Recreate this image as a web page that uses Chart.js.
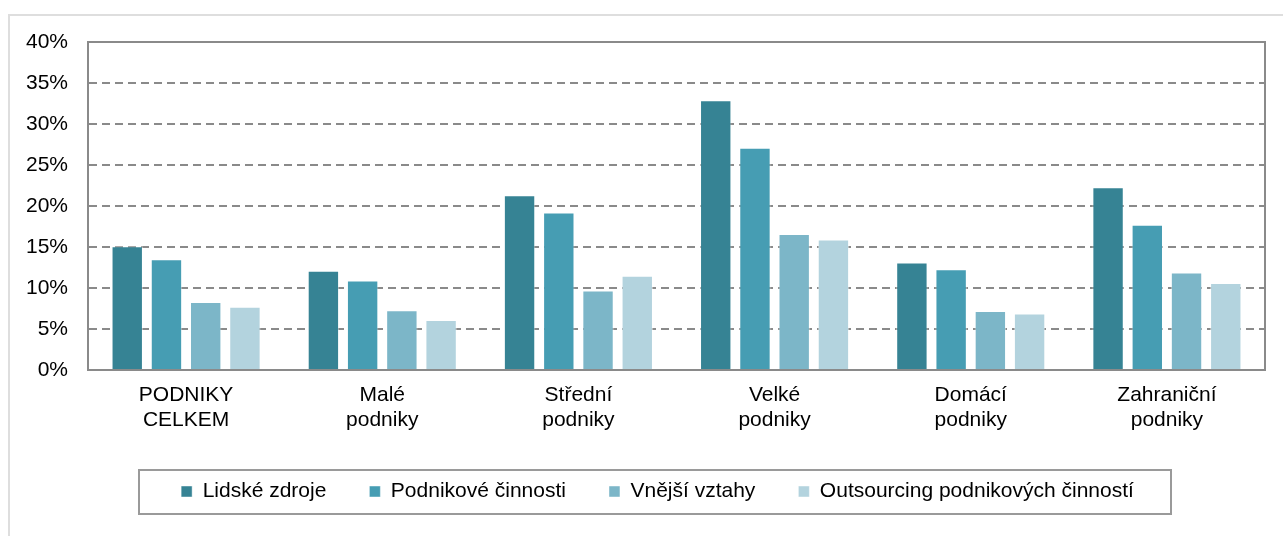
<!DOCTYPE html>
<html>
<head>
<meta charset="utf-8">
<script src="https://cdn.jsdelivr.net/npm/chart.js@4"></script>
<style>
  body { margin: 0; background: #fff; }
  #frame { position: absolute; left: 8px; top: 14px; width: 1300px; height: 540px; border: 2px solid #dedede; }
  #wrap { position: absolute; left: 0; top: 0; width: 1283px; height: 536px; }
</style>
</head>
<body>
<div id="frame"></div>
<div id="wrap"><canvas id="bars"></canvas></div>
<script>
  // categories (two-line labels)
  const categories = [
    ['PODNIKY', 'CELKEM'],
    ['Malé', 'podniky'],
    ['Střední', 'podniky'],
    ['Velké', 'podniky'],
    ['Domácí', 'podniky'],
    ['Zahraniční', 'podniky']
  ];

  // series values in %
  const lidskeZdroje = [15.1, 12.1, 21.3, 32.9, 13.1, 22.3];
  const podnikoveCinnosti = [13.5, 10.9, 19.2, 27.1, 12.3, 17.7];
  const vnejsiVztahy = [8.3, 7.3, 9.7, 16.6, 7.2, 11.9];
  const outsourcing = [7.7, 6.1, 11.5, 15.9, 6.9, 10.6];

  const seriesNames = ['Lidské zdroje', 'Podnikové činnosti', 'Vnější vztahy', 'Outsourcing podnikových činností'];
  const seriesColors = ['#368394', '#469db3', '#7cb6c8', '#b3d3de'];

  const yMin = 0, yMax = 40, yStep = 5;

  const gridGray = '#8a8a8a';
  const font = { family: '"Liberation Sans", Arial, sans-serif', size: 21, lineHeight: 1.18 };

  // border of plot area (top + right) and box round the legend
  const framePlugin = {
    id: 'framePlugin',
    afterLayout(chart) {
      // legend sits a bit right of centre in the original
      chart.legend.left += 12;
      chart.legend.right += 12;
    },
    afterDraw(chart) {
      const c = chart.ctx, a = chart.chartArea;
      c.save();
      c.strokeStyle = gridGray;
      c.lineWidth = 2;
      c.setLineDash([]);
      c.beginPath();
      c.moveTo(a.left, a.top);
      c.lineTo(a.right, a.top);
      c.lineTo(a.right, a.bottom);
      c.stroke();

      const boxes = chart.legend.legendHitBoxes;
      if (boxes && boxes.length) {
        let l = Infinity, r = -Infinity, t = Infinity, b = -Infinity;
        boxes.forEach(h => {
          l = Math.min(l, h.left); r = Math.max(r, h.left + h.width);
          t = Math.min(t, h.top); b = Math.max(b, h.top + h.height);
        });
        const mid = (t + b) / 2;
        c.strokeStyle = '#9a9a9a';
        c.lineWidth = 2;
        c.strokeRect(Math.round(l - 42), Math.round(mid - 22), Math.round(r - l + 79), 44);
      }
      c.restore();
    }
  };

  const myChart = new Chart(document.getElementById('bars'), {
    type: 'bar',
    data: {
      labels: categories,
      datasets: [
        { label: seriesNames[0], data: lidskeZdroje },
        { label: seriesNames[1], data: podnikoveCinnosti },
        { label: seriesNames[2], data: vnejsiVztahy },
        { label: seriesNames[3], data: outsourcing }
      ].map((d, i) => Object.assign(d, {
        backgroundColor: seriesColors[i],
        borderColor: 'rgba(255,255,255,0.45)',
        borderWidth: 1,
        categoryPercentage: 0.8,
        barPercentage: 0.8
      }))
    },
    options: {
      responsive: true,
      maintainAspectRatio: false,
      animation: false,
      layout: { padding: { left: 26, top: 42, right: 18, bottom: 24 } },
      plugins: {
        tooltip: { enabled: false },
        legend: {
          position: 'bottom',
          labels: {
            color: '#000',
            font: font,
            boxWidth: 11,
            boxHeight: 11,
            padding: 43
          }
        }
      },
      scales: {
        x: {
          afterFit(scale) { scale.height = 68; },
          grid: { display: false },
          border: { display: true, color: gridGray, width: 2 },
          ticks: { color: '#000', font: font, padding: 5, maxRotation: 0 }
        },
        y: {
          min: yMin,
          max: yMax,
          afterFit(scale) { scale.width = 62; },
          ticks: {
            stepSize: yStep,
            color: '#000',
            font: font,
            padding: 20,
            callback: v => v + '%'
          },
          grid: {
            color: gridGray,
            lineWidth: 2,
            drawTicks: false
          },
          border: { display: true, color: gridGray, width: 2, dash: [8, 5] }
        }
      }
    },
    plugins: [framePlugin]
  });
</script>
</body>
</html>
